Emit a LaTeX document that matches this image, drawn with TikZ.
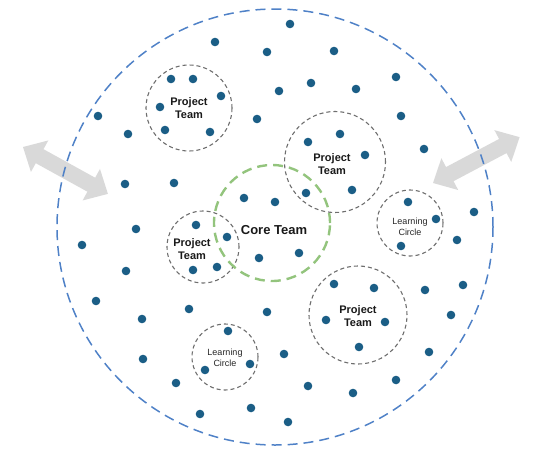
\documentclass[tikz,border=0pt]{standalone}
\usepackage{fontspec}
\setmainfont{Liberation Sans}
\usepackage{tikz}
\definecolor{dot_blue}{HTML}{1B5E86}
\definecolor{ring_blue}{HTML}{4F81C7}
\definecolor{ring_grey}{HTML}{6E6E6E}
\definecolor{core_green}{HTML}{93C47D}
\definecolor{arrow_grey}{HTML}{D9D9D9}
\begin{document}
\begin{tikzpicture}[x=1pt,y=-1pt,
    team/.style={circle,draw=ring_grey,line width=1.1pt,dash pattern=on 4pt off 3pt,inner sep=0pt},
    teamtext/.style={font=\bfseries\fontsize{11}{13}\selectfont,align=center,text=black!90},
    circletext/.style={font=\fontsize{9}{11.5}\selectfont,align=center,text=black!85}]
              \useasboundingbox (0,0) rectangle (546,456);
              % grey double arrows
              \foreach \x/\y/\a/\L in {23/147/-28.9/97, 433/183/27.9/98}
                {
                \begin{scope}[shift={(\x,\y)},rotate=\a]
                \fill[arrow_grey] (0,0) -- (19,18) -- (19,8) -- (\L-19,8) -- (\L-19,18) -- (\L,0)
                     -- (\L-19,-18) -- (\L-19,-8) -- (19,-8) -- (19,-18) -- cycle;
                \end{scope}
                }
              % network
              \node[circle,draw=ring_blue,line width=1.5pt,dash pattern=on 10pt off 6pt,minimum size=436pt,inner sep=0pt] (NET) at (275,227) {};
              % teams and circles
              \node[team,minimum size=86pt] (PT1) at (189,108) {};
              \node[team,minimum size=101pt] (PT2) at (335,162) {};
              \node[team,minimum size=72pt] (PT3) at (203,247) {};
              \node[team,minimum size=98pt] (PT4) at (358,315) {};
              \node[team,minimum size=66pt] (LC1) at (410,223) {};
              \node[team,minimum size=66pt] (LC2) at (225,357) {};
              \node[circle,draw=core_green,line width=2.4pt,dash pattern=on 10pt off 6pt,minimum size=116pt,inner sep=0pt] (CT) at (272,223) {};
              % members
              \foreach \p in {(215,42),(267,52),(171,79),(193,79),(221,96),(160,107),(98,116),(128,134),(165,130),(210,132),(257,119),
                  (125,184),(174,183),(244,198),(196,225),(136,229),
                  (290,24),(334,51),(279,91),(311,83),(356,89),(396,77),(401,116),(424,149),(340,134),(308,142),(365,155),
                  (306,193),(352,190),(275,202),(408,202),(436,219),(474,212),
                  (227,237),(193,270),(217,267),(259,258),(299,253),(334,284),(374,288),(401,246),(457,240),
                  (82,245),(126,271),(96,301),(142,319),(189,309),(267,312),(228,331),(143,359),(205,370),(250,364),
                  (176,383),(200,414),(251,408),
                  (425,290),(463,285),(451,315),(326,320),(385,322),(359,347),(284,354),(429,352),(308,386),(353,393),
                  (396,380),(288,422)}
                \fill[dot_blue] \p circle (4.3);
              % labels
              \node[teamtext] (PT1txt) at (189,108) {Project\\Team};
              \node[teamtext] (PT2txt) at (332,164) {Project\\Team};
              \node[teamtext] (PT3txt) at (192,249) {Project\\Team};
              \node[teamtext] (PT4txt) at (358,316) {Project\\Team};
              \node[font=\bfseries\fontsize{13}{15}\selectfont,text=black!90] (CTtxt) at (274,230) {Core Team};
              \node[circletext] (LC1txt) at (410,227) {Learning\\Circle};
              \node[circletext] (LC2txt) at (225,358) {Learning\\Circle};
          \end{tikzpicture}
\end{document}
